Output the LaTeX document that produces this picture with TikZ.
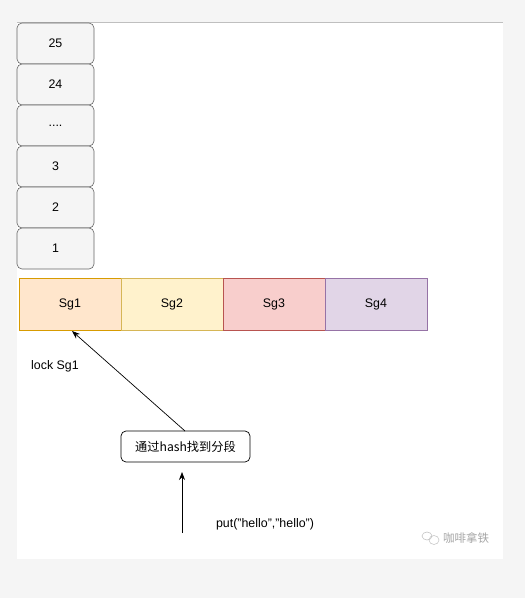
\documentclass[tikz,border=0pt]{standalone}
\usepackage{fontspec}
\setmainfont{Liberation Sans}
\newfontfamily\cjk{Noto Sans CJK SC}
\usetikzlibrary{arrows.meta}
\definecolor{bgc}{HTML}{F5F5F5}
\definecolor{stk}{HTML}{666666}
\definecolor{f1}{HTML}{FFE6CC}\definecolor{s1}{HTML}{D79B00}
\definecolor{f2}{HTML}{FFF2CC}\definecolor{s2}{HTML}{D6B656}
\definecolor{f3}{HTML}{F8CECC}\definecolor{s3}{HTML}{B85450}
\definecolor{f4}{HTML}{E1D5E7}\definecolor{s4}{HTML}{9673A6}
\begin{document}
\begin{tikzpicture}[x=1pt,y=-1pt,
  every node/.style={font=\fontsize{12.4}{14}\selectfont},
  stackbox/.style={draw=stk,fill=bgc,rounded corners=5pt,minimum width=77pt,minimum height=41pt,inner sep=0pt,line width=0.6pt},
  segbox/.style={minimum width=102pt,minimum height=52pt,inner sep=0pt,line width=0.6pt},
  arr/.style={-{Stealth[length=8pt,width=6pt]},line width=0.7pt}]
\fill[bgc] (0,0) rectangle (525,598);
\fill[white] (17,22) rectangle (503,559);
\draw[gray!50,line width=0.6pt] (17,22) -- (503,22);
\node[stackbox] (s25) at (55.5,43.5) {25};
\node[stackbox] (s24) at (55.5,84.5) {24};
\node[stackbox] (sdots) at (55.5,125.5) {....};
\node[stackbox] (s3) at (55.5,166.5) {3};
\node[stackbox] (s2) at (55.5,207.5) {2};
\node[stackbox] (s1) at (55.5,248.5) {1};
\node[segbox,draw=s1,fill=f1] (g1) at (70,304) {Sg1};
\node[segbox,draw=s2,fill=f2] (g2) at (172,304) {Sg2};
\node[segbox,draw=s3,fill=f3] (g3) at (274,304) {Sg3};
\node[segbox,draw=s4,fill=f4] (g4) at (376,304) {Sg4};
\node (lock) at (55,366) {lock Sg1};
\node[draw,rounded corners=5pt,minimum width=129pt,minimum height=31pt,inner sep=0pt,line width=0.7pt] (hash) at (185.5,446.5) {\cjk\fontsize{12.2}{14}\selectfont 通过hash找到分段};
\coordinate (hs) at (185,431);
\coordinate (ht) at (72,331);
\draw[arr] (hs) -- (ht);
\coordinate (ps) at (182,533);
\coordinate (pt) at (182,472);
\draw[arr] (ps) -- (pt);
\node (put) at (265,524) {put("hello","hello")};
\node[text=gray!70,font=\cjk\fontsize{11.5}{13}\selectfont] (wm) at (466,538) {咖啡拿铁};
\draw[gray!50,line width=0.5pt] (427,536) ellipse (5pt and 4pt);
\draw[gray!50,line width=0.5pt] (434,540) ellipse (5pt and 4.5pt);
\end{tikzpicture}
\end{document}
